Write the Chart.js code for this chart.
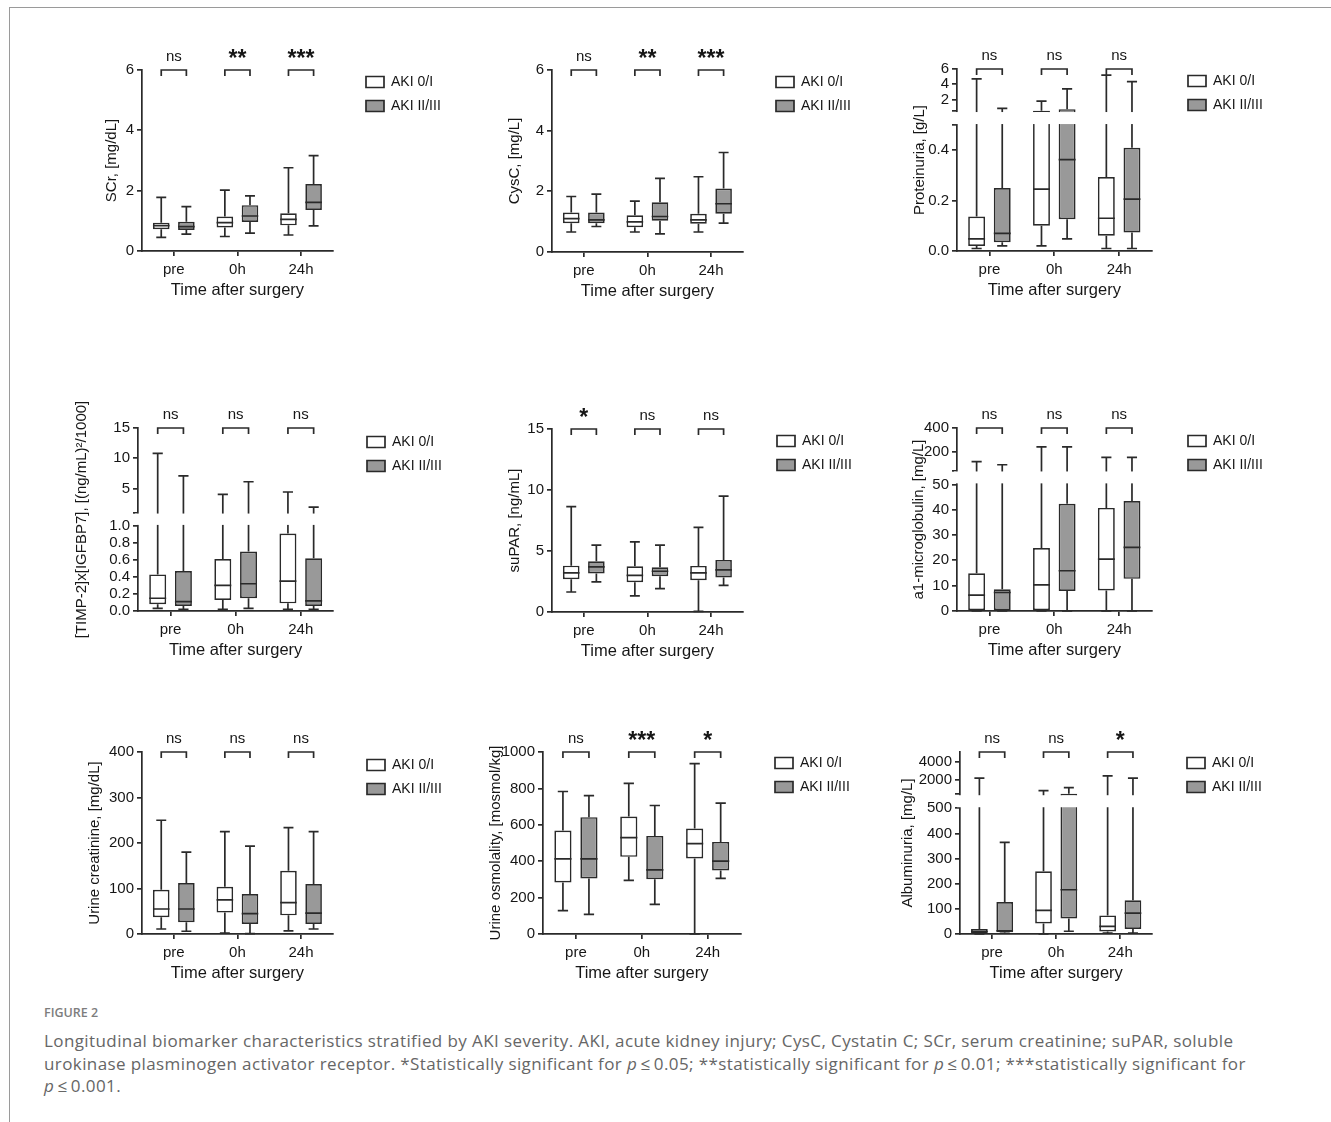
<!DOCTYPE html>
<html>
<head>
<meta charset="utf-8">
<script src="https://cdn.jsdelivr.net/npm/chart.js@4.4.1/dist/chart.umd.min.js"></script>
<style>
html,body{margin:0;padding:0;background:#fff;}
body{width:1331px;height:1122px;position:relative;overflow:hidden;}
.frameTop{position:absolute;left:9px;top:7px;width:1322px;height:1px;background:#9a9a9a;}
.frameLeft{position:absolute;left:9px;top:7px;width:1px;height:1115px;background:#9a9a9a;}
canvas{position:absolute;}
#figlabel{position:absolute;left:44px;top:1005px;font:600 12.5px 'Open Sans',sans-serif;color:#7d7d7d;line-height:16px;}
#caption{position:absolute;left:44px;top:1030px;font:400 17px 'Open Sans',sans-serif;letter-spacing:0.4px;color:#666;line-height:22.5px;white-space:nowrap;}
</style>
</head>
<body>
<div class="frameTop"></div>
<div class="frameLeft"></div>
<div id="charts"></div>
<div id="figlabel">FIGURE 2</div>
<div id="caption">Longitudinal biomarker characteristics stratified by AKI severity. AKI, acute kidney injury; CysC, Cystatin C; SCr, serum creatinine; suPAR, soluble<br>urokinase plasminogen activator receptor. *Statistically significant for <i>p</i>&#8201;≤&#8201;0.05; **statistically significant for <i>p</i>&#8201;≤&#8201;0.01; ***statistically significant for<br><i>p</i>&#8201;≤&#8201;0.001.</div>
<script>
// ---------------- DATA ----------------
const categories = ['pre', '0h', '24h'];
const seriesNames = ['AKI 0/I', 'AKI II/III'];
// each entry: [min, Q1, median, Q3, max] for pre, 0h, 24h

const scr01 = [[0.45,0.72,0.84,0.94,1.78],[0.48,0.78,0.94,1.14,2.02],[0.53,0.85,1.05,1.25,2.76]];
const scr23 = [[0.56,0.70,0.81,0.97,1.47],[0.59,0.96,1.16,1.52,1.83],[0.83,1.36,1.61,2.22,3.16]];
const scrSig = ['ns','**','***'];
const scrTicks = ['0','2','4','6'];

const cysc01 = [[0.66,0.95,1.10,1.30,1.83],[0.66,0.82,0.99,1.21,1.68],[0.66,0.93,1.06,1.26,2.48]];
const cysc23 = [[0.84,0.95,1.06,1.30,1.91],[0.60,1.03,1.17,1.64,2.43],[0.95,1.26,1.59,2.09,3.28]];
const cyscSig = ['ns','**','***'];
const cyscTicks = ['0','2','4','6'];

const prot01 = [[0.01,0.02,0.048,0.137,4.7],[0.02,0.10,0.246,0.55,1.8],[0.01,0.061,0.13,0.294,5.2]];
const prot23 = [[0.02,0.035,0.07,0.25,0.85],[0.048,0.126,0.363,0.75,3.4],[0.01,0.073,0.206,0.41,4.36]];
const protSig = ['ns','ns','ns'];
const protLowTicks = ['0.0','0.2','0.4'];
const protHighTicks = ['2','4','6'];

const timp01 = [[0.03,0.08,0.15,0.43,10.8],[0.02,0.13,0.30,0.61,4.0],[0.02,0.09,0.35,0.91,4.4]];
const timp23 = [[0.02,0.06,0.11,0.47,7.06],[0.03,0.15,0.32,0.70,6.1],[0.02,0.06,0.12,0.62,1.9]];
const timpSig = ['ns','ns','ns'];
const timpLowTicks = ['0.0','0.2','0.4','0.6','0.8','1.0'];
const timpHighTicks = ['5','10','15'];

const supar01 = [[1.64,2.68,3.2,3.8,8.63],[1.32,2.44,3.0,3.75,5.75],[0.05,2.6,3.2,3.78,6.93]];
const supar23 = [[2.47,3.15,3.7,4.16,5.48],[1.92,2.93,3.34,3.67,5.48],[2.19,2.82,3.45,4.27,9.5]];
const suparSig = ['*','ns','ns'];
const suparTicks = ['0','5','10','15'];

const a1m01 = [[0,0,6.3,14.9,122],[0,0,10.3,24.9,244],[0,8.1,20.5,40.7,158]];
const a1m23 = [[0,0,7.3,8.6,97],[0,7.9,15.9,42.3,244],[0,12.7,25.1,43.4,158]];
const a1mSig = ['ns','ns','ns'];
const a1mLowTicks = ['0','10','20','30','40','50'];
const a1mHighTicks = ['200','400'];

const ucr01 = [[11,37,55,97,250],[2,47,75,104,225],[7,41,69,139,234]];
const ucr23 = [[6,26,55,112,180],[1,22,45,88,193],[11,22,46,110,225]];
const ucrSig = ['ns','ns','ns'];
const ucrTicks = ['0','100','200','300','400'];

const osm01 = [[128,283,413,569,783],[295,424,530,646,828],[0,415,497,580,936]];
const osm23 = [[108,305,413,642,760],[163,301,352,539,706],[306,349,400,506,719]];
const osmSig = ['ns','***','*'];
const osmTicks = ['0','200','400','600','800','1000'];

const alb01 = [[0,3,10,20,2215],[0,42,94,249,890],[4,10,30,74,2450]];
const alb23 = [[3,7,13,127,364],[11,62,176,550,1200],[4,20,83,134,2215]];
const albSig = ['ns','ns','*'];
const albLowTicks = ['0','100','200','300','400','500'];
const albHighTicks = ['2000','4000'];

// ---------------- LAYOUT ----------------
const FONT = "'Liberation Sans', Arial, sans-serif";
const INK = '#2a2a2a';
const TXT = '#161616';
const GRAYFILL = '#999999';
const LW = 1.7;
const YW = 70, PADT = 50, XH = 55;

const panels = [
  {L:142, R:325, T:70, B:251, yOff:30, lgX:366, lgY:82, yTitle:'SCr, [mg/dL]', s:[scr01,scr23], sig:scrSig, ticks:scrTicks},
  {L:552, R:735, T:70, B:252, yOff:37, lgX:776, lgY:82, yTitle:'CysC, [mg/L]', s:[cysc01,cysc23], sig:cyscSig, ticks:cyscTicks},
  {L:957, R:1145, T:69, B:251, yOff:37, lgX:1188, lgY:81, yTitle:'Proteinuria, [g/L]', s:[prot01,prot23], sig:protSig, low:protLowTicks, high:protHighTicks, brk:0.5, top:6, lowPct:69.2, upPct:76.9},
  {L:138, R:327, T:428, B:611, yOff:56, lgX:367, lgY:442, yTitle:'[TIMP-2]x[IGFBP7], [(ng/mL)²/1000]', s:[timp01,timp23], sig:timpSig, low:timpLowTicks, high:timpHighTicks, brk:1, top:15, lowPct:46.5, upPct:53.8},
  {L:552, R:735, T:429, B:612, yOff:37, lgX:777, lgY:441, yTitle:'suPAR, [ng/mL]', s:[supar01,supar23], sig:suparSig, ticks:suparTicks},
  {L:957, R:1145, T:428, B:611, yOff:38, lgX:1188, lgY:441, yTitle:'a1-microglobulin, [mg/L]', s:[a1m01,a1m23], sig:a1mSig, low:a1mLowTicks, high:a1mHighTicks, brk:50, top:400, lowPct:69.2, upPct:76.8},
  {L:142, R:325, T:752, B:934, yOff:47, lgX:367, lgY:765, yTitle:'Urine creatinine, [mg/dL]', s:[ucr01,ucr23], sig:ucrSig, ticks:ucrTicks},
  {L:543, R:735, T:752, B:934, yOff:47, lgX:775, lgY:763, yTitle:'Urine osmolality, [mosmol/kg]', s:[osm01,osm23], sig:osmSig, ticks:osmTicks},
  {L:960, R:1145, T:752, B:934, yOff:52, lgX:1187, lgY:763, yTitle:'Albuminuria, [mg/L]', s:[alb01,alb23], sig:albSig, low:albLowTicks, high:albHighTicks, brk:500, top:5000, lowPct:69.1, upPct:76.8}
];

Chart.defaults.font.family = FONT;
Chart.defaults.color = TXT;

function makeToV(p) {
  if (p.brk === undefined) return v => v;
  return v => v <= p.brk ? v / p.brk * p.lowPct
                         : p.upPct + (v - p.brk) / (p.top - p.brk) * (100 - p.upPct);
}
function tickList(p, toV) {
  if (p.brk === undefined) return p.ticks.map(l => ({value: toV(parseFloat(l)), label: l}));
  const list = p.low.map(l => ({value: toV(parseFloat(l)), label: l}));
  if (!p.low.some(l => parseFloat(l) === p.brk)) list.push({value: p.lowPct, label: ''});
  list.push({value: p.upPct, label: ''});
  p.high.forEach(l => list.push({value: toV(parseFloat(l)), label: l}));
  list.sort((a, b) => a.value - b.value);
  return list;
}

function panelPlugin(p, toV) {
  return {
    id: 'boxplotExtras',
    afterLayout(chart) {
      const lg = chart.legend;
      if (!lg) return;
      const w = lg.width, h = lg.height;
      lg.left = p.lgX - 10 - p.cx; lg.right = lg.left + w;
      lg.top = p.lgY - 17 - p.cy; lg.bottom = lg.top + h;
    },
    afterDatasetsDraw(chart) {
      const ctx = chart.ctx, ys = chart.scales.y, ca = chart.chartArea;
      const px = v => ys.getPixelForValue(toV(v));
      ctx.save();
      ctx.strokeStyle = INK; ctx.lineWidth = LW; ctx.lineCap = 'butt';
      [0, 1].forEach(di => {
        const meta = chart.getDatasetMeta(di);
        meta.data.forEach((bar, i) => {
          const [mn, q1, md, q3, mx] = p.s[di][i];
          const x = bar.x, hw = bar.width / 2, cw = bar.width * 0.3;
          ctx.beginPath();
          ctx.moveTo(x, px(q1)); ctx.lineTo(x, px(mn));
          ctx.moveTo(x - cw, px(mn)); ctx.lineTo(x + cw, px(mn));
          ctx.moveTo(x, px(q3)); ctx.lineTo(x, px(mx));
          ctx.moveTo(x - cw, px(mx)); ctx.lineTo(x + cw, px(mx));
          ctx.moveTo(x - hw, px(md)); ctx.lineTo(x + hw, px(md));
          ctx.stroke();
        });
      });
      if (p.brk !== undefined) {
        const yLow = ys.getPixelForValue(p.lowPct), yUp = ys.getPixelForValue(p.upPct);
        ctx.fillStyle = '#fff';
        ctx.fillRect(ca.left - 3, yUp + 1, ca.right - ca.left + 6, yLow - yUp - 2);
      }
      ctx.restore();
    },
    afterDraw(chart) {
      const ctx = chart.ctx, top = chart.chartArea.top;
      const m0 = chart.getDatasetMeta(0), m1 = chart.getDatasetMeta(1);
      ctx.save();
      ctx.strokeStyle = INK; ctx.lineWidth = LW; ctx.fillStyle = TXT;
      ctx.textAlign = 'center'; ctx.textBaseline = 'middle';
      p.sig.forEach((s, i) => {
        const x1 = m0.data[i].x, x2 = m1.data[i].x;
        ctx.beginPath();
        ctx.moveTo(x1, top + 6); ctx.lineTo(x1, top); ctx.lineTo(x2, top); ctx.lineTo(x2, top + 6);
        ctx.stroke();
        const xc = (x1 + x2) / 2;
        if (s === 'ns') {
          ctx.font = '15px ' + FONT;
          ctx.fillText(s, xc, top - 13);
        } else {
          ctx.font = 'bold 23px ' + FONT;
          ctx.fillText(s, xc, top - 10);
        }
      });
      ctx.restore();
    }
  };
}

const holder = document.getElementById('charts');
panels.forEach((p) => {
  p.cx = p.L - YW;
  p.cy = p.T - PADT;
  const CW = (p.R - p.cx) + 150;
  const CH = PADT + (p.B - p.T) + XH;
  const cv = document.createElement('canvas');
  cv.width = CW; cv.height = CH;
  cv.style.left = p.cx + 'px'; cv.style.top = p.cy + 'px';
  cv.style.width = CW + 'px'; cv.style.height = CH + 'px';
  holder.appendChild(cv);

  const toV = makeToV(p);
  const tl = tickList(p, toV);
  const yMax = p.brk === undefined ? parseFloat(p.ticks[p.ticks.length - 1]) : 100;
  const lhY = 15 * 1.2, lhX = 16.5 * 1.2;

  const chart = new Chart(cv.getContext('2d'), {
    type: 'bar',
    data: {
      labels: categories,
      datasets: [0, 1].map(di => ({
        label: seriesNames[di],
        data: p.s[di].map(r => [toV(r[1]), toV(r[3])]),
        backgroundColor: di ? GRAYFILL : '#ffffff',
        borderColor: INK,
        borderWidth: LW,
        borderSkipped: false,
        categoryPercentage: 0.79,
        barPercentage: 0.66
      }))
    },
    options: {
      responsive: false,
      animation: false,
      devicePixelRatio: 1,
      events: [],
      layout: {padding: {left: 0, top: PADT, right: 0, bottom: 0}},
      plugins: {
        legend: {
          position: 'right', align: 'start',
          labels: {boxWidth: 18, boxHeight: 11, padding: 10, color: TXT, font: {family: FONT, size: 14}}
        },
        tooltip: {enabled: false}
      },
      scales: {
        x: {
          type: 'category',
          grid: {display: true, offset: false, drawOnChartArea: false, drawTicks: true, tickLength: 5, color: INK, lineWidth: LW},
          border: {display: true, color: INK, width: LW},
          ticks: {color: TXT, font: {family: FONT, size: 15}, padding: 5, autoSkip: false, maxRotation: 0},
          title: {display: true, text: 'Time after surgery', color: TXT, font: {family: FONT, size: 16.5},
                  padding: {top: 0, bottom: XH - 39 - lhX / 2}},
          afterFit: s => { s.height = XH; }
        },
        y: {
          min: 0, max: yMax,
          grid: {display: true, drawOnChartArea: false, drawTicks: true, tickLength: 5, color: INK, lineWidth: LW},
          border: {display: true, color: INK, width: LW},
          ticks: {color: TXT, font: {family: FONT, size: 15}, padding: 3, autoSkip: false,
                  callback: (v, i) => (tl[i] ? tl[i].label : '')},
          afterBuildTicks: s => { s.ticks = tl.map(t => ({value: t.value})); },
          title: {display: true, text: p.yTitle, color: TXT, font: {family: FONT, size: 15},
                  padding: {top: YW - p.yOff - lhY / 2, bottom: 0}},
          afterFit: s => { s.width = YW; }
        }
      }
    },
    plugins: [panelPlugin(p, toV)]
  });
  const dx = chart.chartArea.right - (p.R - p.cx);
  if (Math.abs(dx) > 0.5) {
    chart.options.layout.padding.right = Math.max(0, dx);
    chart.update();
  }
});
</script>
</body>
</html>
